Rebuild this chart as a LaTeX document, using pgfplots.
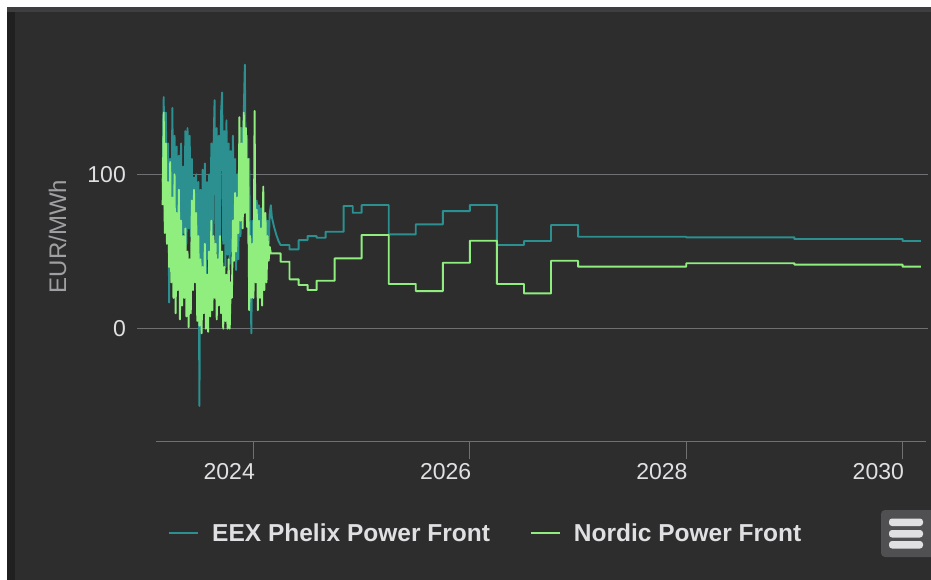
\documentclass[border=0pt]{standalone}
\usepackage{fontspec}
\setmainfont{Liberation Sans}
\usepackage{pgfplots}
\pgfplotsset{compat=1.18}
\definecolor{bg}{HTML}{2D2D2E}
\definecolor{strip}{HTML}{202021}
\definecolor{topstrip}{HTML}{3E3E40}
\definecolor{gridc}{HTML}{707073}
\definecolor{txt}{HTML}{E0E0E3}
\definecolor{ttl}{HTML}{A0A0A3}
\definecolor{eex}{HTML}{2B908F}
\definecolor{nord}{HTML}{90EE7E}
\definecolor{btn}{HTML}{505053}
\begin{document}
\begin{tikzpicture}
\useasboundingbox (0,0) rectangle (931pt,-580pt);
\fill[white] (0,0) rectangle (931pt,-580pt);
\fill[bg] (7pt,-7pt) rectangle (931pt,-580pt);
\fill[strip] (7pt,-7pt) rectangle (15pt,-580pt);
\fill[topstrip] (7pt,-7pt) rectangle (931pt,-12pt);
\begin{axis}[
  at={(137pt,-441.3pt)}, anchor=south west,
  scale only axis, width=791pt, height=421.4pt,
  xmin=2022.923, xmax=2030.235, ymin=-72.9, ymax=200,
  clip=false,
  axis line style={draw=none},
  xtick={2024,2026,2028,2030},
  xticklabels={2024,2026,2028,2030},
  ytick={0,100},
  major tick length=0pt,
  ymajorgrids, xmajorgrids=false,
  grid style={gridc, line width=1.2pt},
  /pgf/number format/assume math mode=true,
  tick label style={font=\fontsize{23}{27}\selectfont, text=txt},
  xticklabel style={anchor=north east, inner sep=0pt, yshift=-22pt, xshift=1.5pt},
  yticklabel style={anchor=east, inner sep=0pt, xshift=-11pt},
  legend columns=2,
  legend style={at={(rel axis cs:0.0392,-0.2185)}, anchor=west, draw=none, fill=none,
    inner sep=0pt, font=\bfseries\fontsize{24.5}{28}\selectfont, text=txt,
    nodes={inner sep=0pt},
    /tikz/every odd column/.append style={column sep=13pt},
    /tikz/every even column/.append style={column sep=40pt}},
  legend image code/.code={\draw[#1, line width=2pt] (0pt,0pt) -- (29pt,0pt);},
]
\draw[gridc, line width=1.5pt] (axis cs:2023.099,-72.9) -- (axis cs:2030.217,-72.9);
\draw[gridc, line width=1.2pt] (axis cs:2024,-72.9) -- ++(0pt,-18pt);
\draw[gridc, line width=1.2pt] (axis cs:2026,-72.9) -- ++(0pt,-18pt);
\draw[gridc, line width=1.2pt] (axis cs:2028,-72.9) -- ++(0pt,-18pt);
\draw[gridc, line width=1.2pt] (axis cs:2030,-72.9) -- ++(0pt,-18pt);
\addplot[eex, line width=1.9pt, line join=round] coordinates {
(2023.16,95)(2023.17,150)(2023.18,70)(2023.19,140)(2023.20,60)(2023.21,120)(2023.22,17)(2023.23,110)(2023.24,55)(2023.25,143)
(2023.26,60)(2023.27,125)(2023.28,50)(2023.29,118)(2023.30,45)(2023.31,112)(2023.32,58)(2023.33,120)(2023.34,48)(2023.35,105)
(2023.36,62)(2023.37,128)(2023.38,55)(2023.39,130)(2023.40,65)(2023.41,125)(2023.42,60)(2023.43,110)(2023.44,45)(2023.45,98)
(2023.46,40)(2023.47,100)(2023.48,35)(2023.49,95)(2023.50,-50)(2023.51,90)(2023.52,30)(2023.53,103)(2023.54,38)(2023.55,107)
(2023.56,28)(2023.57,95)(2023.58,45)(2023.59,100)(2023.60,40)(2023.61,120)(2023.62,44)(2023.63,115)(2023.64,148)(2023.65,50)
(2023.66,130)(2023.67,45)(2023.68,125)(2023.69,60)(2023.70,140)(2023.71,153)(2023.72,55)(2023.73,128)(2023.74,40)(2023.75,135)
(2023.76,48)(2023.77,120)(2023.78,42)(2023.79,115)(2023.80,50)(2023.81,125)(2023.82,45)(2023.83,110)(2023.84,38)(2023.85,100)
(2023.86,45)(2023.87,115)(2023.88,60)(2023.89,130)(2023.90,70)(2023.91,140)(2023.92,171)(2023.93,80)(2023.94,125)(2023.95,55)
(2023.96,110)(2023.97,40)(2023.98,-3)(2023.99,70)(2024.00,45)(2024.01,90)(2024.02,50)(2024.03,83)(2024.04,55)(2024.05,80)
(2024.06,58)(2024.07,78)(2024.08,55)(2024.09,75)(2024.10,50)(2024.11,72)(2024.12,60)(2024.13,70)(2024.14,52)(2024.15,75)
(2024.16,80)(2024.17,72)(2024.19,66)(2024.21,61)(2024.23,57)(2024.25,54.2)
(2024.333,54.2)(2024.333,51.4)(2024.417,51.4)(2024.417,57.4)(2024.5,57.4)(2024.5,60.0)(2024.583,60.0)(2024.583,58.9)
(2024.667,58.9)(2024.667,62.8)(2024.833,62.8)(2024.833,79.5)(2024.917,79.5)(2024.917,75.1)(2025,75.1)(2025,80.1)
(2025.25,80.1)(2025.25,61.1)(2025.5,61.1)(2025.5,67.6)(2025.75,67.6)(2025.75,76.2)(2026,76.2)(2026,80.1)
(2026.25,80.1)(2026.25,54.2)(2026.5,54.2)(2026.5,56.8)(2026.75,56.8)(2026.75,67.2)(2027,67.2)(2027,59.6)
(2028,59.6)(2028,59.2)(2029,59.2)(2029,58.1)(2030,58.1)(2030,56.8)(2030.17,56.8)
};
\addlegendentry{EEX Phelix Power Front}
\addplot[nord, line width=1.9pt, line join=round] coordinates {
(2023.16,80)(2023.17,140)(2023.18,62)(2023.19,120)(2023.20,55)(2023.21,95)(2023.22,40)(2023.23,108)(2023.24,30)(2023.25,85)
(2023.26,20)(2023.27,100)(2023.28,10)(2023.29,75)(2023.30,25)(2023.31,90)(2023.32,6)(2023.33,70)(2023.34,15)(2023.35,60)
(2023.36,20)(2023.37,65)(2023.38,8)(2023.39,50)(2023.40,1)(2023.41,45)(2023.42,10)(2023.43,83)(2023.44,25)(2023.45,90)
(2023.46,30)(2023.47,75)(2023.48,5)(2023.49,60)(2023.50,2)(2023.51,45)(2023.52,-3)(2023.53,40)(2023.54,10)(2023.55,55)
(2023.56,0)(2023.57,35)(2023.58,-2)(2023.59,50)(2023.60,8)(2023.61,70)(2023.62,12)(2023.63,60)(2023.64,20)(2023.65,55)
(2023.66,6)(2023.67,45)(2023.68,15)(2023.69,60)(2023.70,10)(2023.71,50)(2023.72,0)(2023.73,40)(2023.74,5)(2023.75,35)
(2023.76,0)(2023.77,45)(2023.78,0)(2023.79,30)(2023.80,20)(2023.81,70)(2023.82,44)(2023.83,88)(2023.84,50)(2023.85,85)
(2023.86,62)(2023.87,137)(2023.88,70)(2023.89,120)(2023.90,65)(2023.91,140)(2023.92,75)(2023.93,130)(2023.94,66)(2023.95,110)
(2023.96,12)(2023.97,60)(2023.98,20)(2023.99,55)(2024.00,20)(2024.01,141)(2024.02,30)(2024.03,77)(2024.04,12)(2024.05,70)
(2024.06,20)(2024.07,65)(2024.08,15)(2024.09,92)(2024.10,25)(2024.11,75)(2024.12,30)(2024.13,60)(2024.14,44)(2024.15,53)
(2024.16,48.8)(2024.25,48.8)
(2024.25,43.4)(2024.333,43.4)(2024.333,32.0)(2024.417,32.0)(2024.417,28.3)(2024.5,28.3)(2024.5,25.1)(2024.583,25.1)
(2024.583,31.1)(2024.75,31.1)(2024.75,45.6)(2025,45.6)(2025,60.7)(2025.25,60.7)(2025.25,29.0)(2025.5,29.0)
(2025.5,24.4)(2025.75,24.4)(2025.75,42.7)(2026,42.7)(2026,57.0)(2026.25,57.0)(2026.25,29.0)(2026.5,29.0)
(2026.5,22.9)(2026.75,22.9)(2026.75,44.0)(2027,44.0)(2027,40.2)(2028,40.2)(2028,42.4)(2029,42.4)
(2029,41.5)(2030,41.5)(2030,40.2)(2030.17,40.2)
};
\addlegendentry{Nordic Power Front}
\end{axis}
\node[rotate=90, font=\fontsize{24}{28}\selectfont, text=ttl, inner sep=0pt] at (57.5pt,-236.5pt) {EUR/MWh};
\fill[btn, rounded corners=4pt] (881pt,-510pt) rectangle (935pt,-557pt);
\fill[txt, rounded corners=3pt] (889pt,-518.5pt) rectangle (923pt,-526pt);
\fill[txt, rounded corners=3pt] (889pt,-530pt) rectangle (923pt,-537.5pt);
\fill[txt, rounded corners=3pt] (889pt,-541pt) rectangle (923pt,-548.5pt);
\end{tikzpicture}
\end{document}
